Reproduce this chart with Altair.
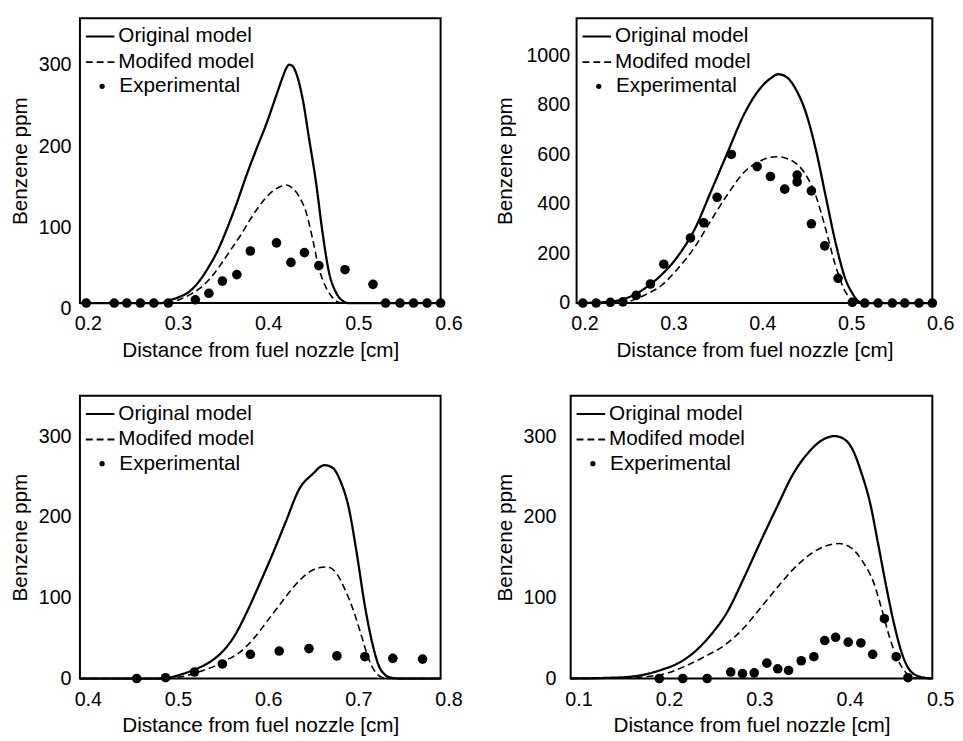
import altair as alt
import pandas as pd

SERIES = ["Original model", "Modifed model", "Experimental"]
FONT = "Liberation Sans"

# ---------------- Panel 1 (top-left) ----------------
p1_orig_x = [0.2, 0.29, 0.298, 0.309, 0.320, 0.331, 0.342, 0.353, 0.363, 0.374, 0.385, 0.396, 0.407, 0.418, 0.424, 0.429, 0.432, 0.436, 0.440, 0.447, 0.454, 0.462, 0.469, 0.476, 0.484, 0.491, 0.498, 0.6]
p1_orig_y = [0, 0, 3, 7, 13, 25, 43, 65, 91, 123, 158, 190, 221, 256, 275, 289, 293, 291, 282, 251, 203, 147, 87, 39, 13, 3, 0, 0]
p1_mod_x = [0.2, 0.295, 0.302, 0.312, 0.323, 0.334, 0.345, 0.356, 0.367, 0.378, 0.389, 0.400, 0.411, 0.422, 0.429, 0.436, 0.443, 0.451, 0.458, 0.465, 0.473, 0.480, 0.487, 0.494, 0.6]
p1_mod_y = [0, 0, 1, 5, 11, 19, 31, 47, 65, 83, 103, 121, 135, 143, 145, 141, 131, 111, 79, 43, 19, 7, 1, 0, 0]
p1_exp_x = [0.207, 0.238, 0.252, 0.267, 0.282, 0.298, 0.328, 0.343, 0.358, 0.374, 0.389, 0.418, 0.434, 0.449, 0.465, 0.494, 0.525, 0.539, 0.555, 0.570, 0.585, 0.600]
p1_exp_y = [0, 0, 0, 0, 0, 0, 4, 12, 27, 35, 64, 74, 50, 62, 46, 41, 23, 0, 0, 0, 0, 0]

# ---------------- Panel 2 (top-right) ----------------
p2_orig_x = [0.2, 0.22, 0.241, 0.259, 0.277, 0.296, 0.314, 0.333, 0.351, 0.370, 0.388, 0.406, 0.418, 0.427, 0.436, 0.447, 0.458, 0.469, 0.480, 0.491, 0.502, 0.510, 0.517, 0.524, 0.6]
p2_orig_y = [0, 2, 7, 24, 60, 116, 190, 300, 450, 610, 760, 865, 907, 924, 913, 860, 767, 620, 433, 247, 100, 40, 7, 0, 0]
p2_mod_x = [0.2, 0.241, 0.259, 0.277, 0.296, 0.314, 0.333, 0.351, 0.370, 0.388, 0.406, 0.425, 0.443, 0.456, 0.469, 0.480, 0.491, 0.502, 0.510, 0.517, 0.6]
p2_mod_y = [0, 0, 7, 33, 73, 140, 227, 333, 440, 527, 573, 591, 573, 527, 433, 300, 153, 47, 13, 0, 0]
p2_exp_x = [0.207, 0.222, 0.238, 0.252, 0.267, 0.283, 0.298, 0.328, 0.343, 0.358, 0.374, 0.403, 0.418, 0.434, 0.448, 0.448, 0.464, 0.464, 0.479, 0.494, 0.510, 0.524, 0.539, 0.555, 0.569, 0.585, 0.600]
p2_exp_y = [0, 0, 3, 5, 31, 77, 157, 263, 324, 427, 600, 551, 511, 460, 517, 489, 453, 320, 231, 100, 3, 0, 0, 0, 0, 0, 0]

# ---------------- Panel 3 (bottom-left) ----------------
p3_orig_x = [0.4, 0.49, 0.498, 0.512, 0.527, 0.542, 0.556, 0.571, 0.585, 0.600, 0.614, 0.629, 0.643, 0.658, 0.671, 0.680, 0.689, 0.698, 0.707, 0.716, 0.724, 0.731, 0.738, 0.745, 0.753, 0.8]
p3_orig_y = [0, 0, 1, 5, 11, 19, 31, 52, 82, 119, 155, 196, 234, 253, 264, 261, 244, 212, 155, 90, 45, 17, 5, 1, 0, 0]
p3_mod_x = [0.4, 0.495, 0.505, 0.520, 0.534, 0.549, 0.563, 0.578, 0.593, 0.607, 0.622, 0.636, 0.651, 0.665, 0.674, 0.684, 0.694, 0.704, 0.713, 0.720, 0.727, 0.734, 0.742, 0.8]
p3_mod_y = [0, 0, 1, 4, 9, 15, 23, 33, 50, 70, 92, 112, 129, 137, 138, 131, 110, 82, 50, 25, 9, 2, 0, 0]
p3_exp_x = [0.463, 0.495, 0.527, 0.558, 0.589, 0.621, 0.654, 0.685, 0.716, 0.747, 0.780]
p3_exp_y = [0, 1, 8, 18, 30, 34, 37, 28, 27, 25, 24]

# ---------------- Panel 4 (bottom-right) ----------------
p4_orig_x = [0.1, 0.146, 0.164, 0.182, 0.201, 0.219, 0.237, 0.255, 0.273, 0.291, 0.309, 0.328, 0.346, 0.364, 0.378, 0.392, 0.404, 0.411, 0.422, 0.431, 0.440, 0.449, 0.458, 0.467, 0.476, 0.487, 0.5]
p4_orig_y = [0, 1, 2, 5, 11, 19, 33, 54, 82, 123, 167, 212, 253, 281, 295, 300, 295, 285, 253, 218, 167, 114, 66, 29, 9, 2, 0]
p4_mod_x = [0.1, 0.164, 0.190, 0.208, 0.226, 0.248, 0.270, 0.291, 0.309, 0.328, 0.346, 0.364, 0.382, 0.397, 0.411, 0.424, 0.435, 0.444, 0.453, 0.462, 0.471, 0.480, 0.5]
p4_mod_y = [0, 1, 3, 7, 15, 27, 41, 62, 86, 112, 135, 153, 164, 167, 161, 143, 119, 86, 50, 23, 7, 1, 0]
p4_exp_x = [0.198, 0.224, 0.251, 0.277, 0.290, 0.303, 0.317, 0.329, 0.341, 0.355, 0.369, 0.381, 0.393, 0.407, 0.421, 0.434, 0.447, 0.460, 0.473]
p4_exp_y = [0, 0, 0, 8, 6, 7, 19, 12, 10, 22, 27, 47, 51, 45, 44, 30, 74, 27, 1]

X_TITLE = "Distance from fuel nozzle [cm]"
Y_TITLE = "Benzene ppm"


def line_legend():
    return alt.Legend(title=None, orient="none", legendX=5, legendY=3, padding=0,
                      labelFontSize=21, labelFont=FONT, labelColor="black",
                      symbolSize=841, symbolStrokeWidth=2, symbolStrokeColor="black",
                      rowPadding=-3, labelOffset=3, labelLimit=300)


def point_legend():
    return alt.Legend(title=None, orient="none", legendX=12, legendY=58.5, padding=0,
                      labelFontSize=21, labelFont=FONT, labelColor="black",
                      symbolSize=28, symbolFillColor="black", symbolStrokeWidth=0,
                      symbolOpacity=1, labelOffset=7, labelLimit=300)


def panel(ox, oy, mx, my, ex, ey, xdom, xvals, ydom, yvals, w, h,
          ylab_off, ylab_pad, ytitle_pad):
    d_orig = pd.DataFrame({"x": ox, "y": oy, "series": SERIES[0]})
    d_mod = pd.DataFrame({"x": mx, "y": my, "series": SERIES[1]})
    d_exp = pd.DataFrame({"x": ex, "y": ey, "series": SERIES[2]})

    xenc = alt.X("x:Q", scale=alt.Scale(domain=xdom, nice=False, zero=False),
                 axis=alt.Axis(values=xvals, format=".1f", title=X_TITLE,
                               labelOffset=8, labelPadding=11, titlePadding=6))
    yenc = alt.Y("y:Q", scale=alt.Scale(domain=ydom, nice=False),
                 axis=alt.Axis(values=yvals, format="d", title=Y_TITLE,
                               labelOffset=ylab_off, labelPadding=ylab_pad,
                               titlePadding=ytitle_pad))
    dash = alt.StrokeDash("series:N",
                          scale=alt.Scale(domain=SERIES[:2], range=[[1, 0], [7, 4]]),
                          legend=line_legend())

    line_o = alt.Chart(d_orig).mark_line(color="black", strokeWidth=2.3,
                                         interpolate="monotone").encode(
        x=xenc, y=yenc, strokeDash=dash)
    line_m = alt.Chart(d_mod).mark_line(color="black", strokeWidth=1.6,
                                        interpolate="monotone").encode(
        x=xenc, y=yenc, strokeDash=dash)
    pts = alt.Chart(d_exp).mark_point(filled=True, color="black", opacity=1,
                                      size=95).encode(
        x=xenc, y=yenc,
        shape=alt.Shape("series:N",
                        scale=alt.Scale(domain=SERIES[2:], range=["circle"]),
                        legend=point_legend()))
    return alt.layer(line_o, line_m, pts).properties(width=w, height=h)


c1 = panel(p1_orig_x, p1_orig_y, p1_mod_x, p1_mod_y, p1_exp_x, p1_exp_y,
           [0.2, 0.6], [0.2, 0.3, 0.4, 0.5, 0.6], [0, 350], [0, 100, 200, 300],
           366, 289, 6, 9, 8)
c2 = panel(p2_orig_x, p2_orig_y, p2_mod_x, p2_mod_y, p2_exp_x, p2_exp_y,
           [0.2, 0.6], [0.2, 0.3, 0.4, 0.5, 0.6], [0, 1150], [0, 200, 400, 600, 800, 1000],
           361, 289, 0, 7, 11)
c3 = panel(p3_orig_x, p3_orig_y, p3_mod_x, p3_mod_y, p3_exp_x, p3_exp_y,
           [0.4, 0.8], [0.4, 0.5, 0.6, 0.7, 0.8], [0, 350], [0, 100, 200, 300],
           366, 287, 0, 9, 8)
c4 = panel(p4_orig_x, p4_orig_y, p4_mod_x, p4_mod_y, p4_exp_x, p4_exp_y,
           [0.1, 0.5], [0.1, 0.2, 0.3, 0.4, 0.5], [0, 350], [0, 100, 200, 300],
           367, 287, 0, 15, 8)


def indep(c):
    return c.resolve_scale(shape="independent", strokeDash="independent").resolve_legend(
        shape="independent", strokeDash="independent")


row1 = indep(alt.hconcat(c1, c2, spacing=30))
row2 = indep(alt.hconcat(c3, c4, spacing=30))

chart = indep(alt.vconcat(row1, row2, spacing=34)).properties(
    padding={"left": 0, "top": 4, "right": 0, "bottom": 0},
    background="white"
).configure_view(stroke="black", strokeWidth=2).configure_axis(
    labelFont=FONT, titleFont=FONT, labelFontSize=20, titleFontSize=21,
    titleFontWeight="normal", labelColor="black", titleColor="black",
    domain=False, ticks=False, grid=False, labelFlush=False
)

chart.save("out.html", embed_options={"renderer": "svg", "actions": False})
